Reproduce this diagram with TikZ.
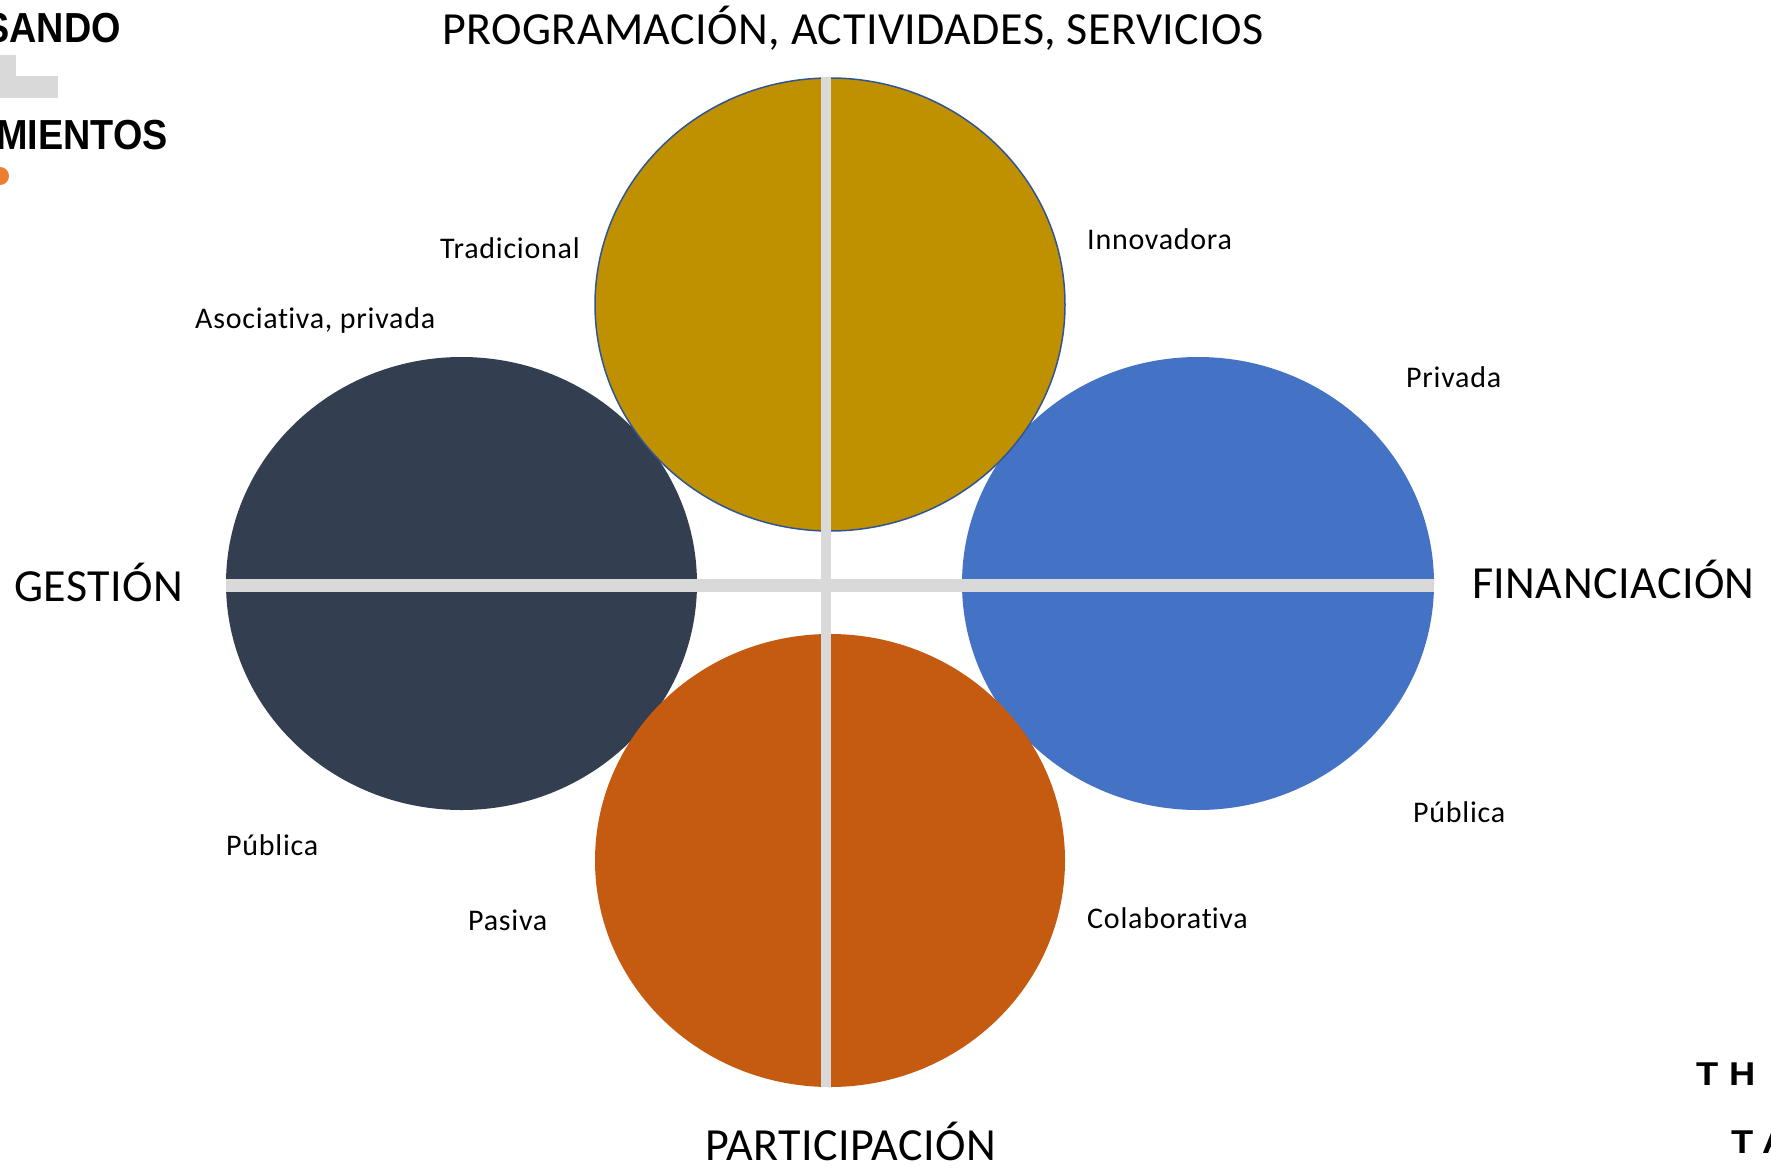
\documentclass[tikz,border=0pt]{standalone}
\usepackage{fontspec}
\setmainfont{Carlito}
\newfontfamily\hdfont{Liberation Sans}
\newfontfamily\bigfont[LetterSpace=1,Ligatures={NoCommon,NoContextual,NoRare}]{Carlito}
\newfontfamily\smallfont[LetterSpace=2.5,Ligatures={NoCommon,NoContextual,NoRare}]{Carlito}
\newcommand{\nolig}{\kern0pt\relax}
\definecolor{cgold}{HTML}{BF9000}
\definecolor{cdark}{HTML}{333F50}
\definecolor{cblue}{HTML}{4472C4}
\definecolor{corange}{HTML}{C55A11}
\definecolor{cline}{HTML}{D9D9D9}
\definecolor{cborder}{HTML}{2F5597}
\definecolor{cdot}{HTML}{ED7D31}
\begin{document}
\begin{tikzpicture}[x=1pt,y=-1pt,
  big/.style={font=\bigfont\fontsize{46}{50}\selectfont, inner sep=0pt},
  small/.style={font=\smallfont\fontsize{30}{32}\selectfont, inner sep=0pt},
  hd/.style={font=\hdfont\bfseries\fontsize{42}{46}\selectfont, inner sep=0pt, xscale=0.9, transform shape},
  ft/.style={font=\hdfont\bfseries\fontsize{33}{36}\selectfont, inner sep=0pt, xscale=1.1, transform shape},
  bar/.style={draw=cline, line width=10pt},
  hbar/.style={draw=cline, line width=13pt}]
\useasboundingbox (0,0) rectangle (1771,1169);
\clip (0,0) rectangle (1771,1169);
% top-left fragments
\node[hd, anchor=base east] (hsando) at (121,43) {SANDO};
\fill[cline] (0,55) rectangle (16,98);
\fill[cline] (0,76) rectangle (58,98);
\node[hd, anchor=base east] (hmient) at (168,150) {MIENTOS};
\fill[cdot] (0,176) circle (9);
% bottom-right fragments
\node[ft, anchor=base west] (ft1) at (1696,1085) {T};
\node[ft, anchor=base west] (ft2) at (1729,1085) {H};
\node[ft, anchor=base west] (ft3) at (1731,1153) {T};
\node[ft, anchor=base west] (ft4) at (1762,1153) {A};
% circles
\fill[cdark] (461.5,583.5) ellipse (235.5 and 226.5);
\fill[cblue] (1198,583.5) ellipse (236 and 226.5);
\filldraw[fill=cgold, draw=cborder, line width=1.5pt] (830,304.5) ellipse (235 and 226.5);
\fill[corange] (830,860.5) ellipse (235 and 226.5);
% bars
\coordinate (vt) at (826,77);
\coordinate (vb) at (826,1087);
\coordinate (hl) at (226,585);
\coordinate (hr) at (1434,585);
\draw[bar] (vt) -- (vb);
\draw[hbar] (hl) -- (hr);
% big labels
\node[big] (prog) at (853,28) {PROGRAMACIÓN, ACTIVIDADES, SERVICIOS};
\node[big, anchor=west] (gest) at (14,582) {GESTIÓN};
\node[big, anchor=west] (fin) at (1472,579) {FINANCIACIÓN};
\node[big] (part) at (851,1141) {PARTICIPACIÓN};
% small labels
\node[small, anchor=west] (trad) at (440,248) {Tradicional};
\node[small, anchor=west] (innov) at (1087,239) {Innovadora};
\node[small, anchor=west] (asoc) at (195,320) {Asociat\nolig iva, privada};
\node[small, anchor=west] (priv) at (1406,377) {Privada};
\node[small, anchor=west] (publ) at (226,845) {Pública};
\node[small, anchor=west] (pubr) at (1413,812) {Pública};
\node[small, anchor=west] (pas) at (468,920) {Pasiva};
\node[small, anchor=west] (colab) at (1087,918) {Colaborat\nolig iva};
\end{tikzpicture}
\end{document}
